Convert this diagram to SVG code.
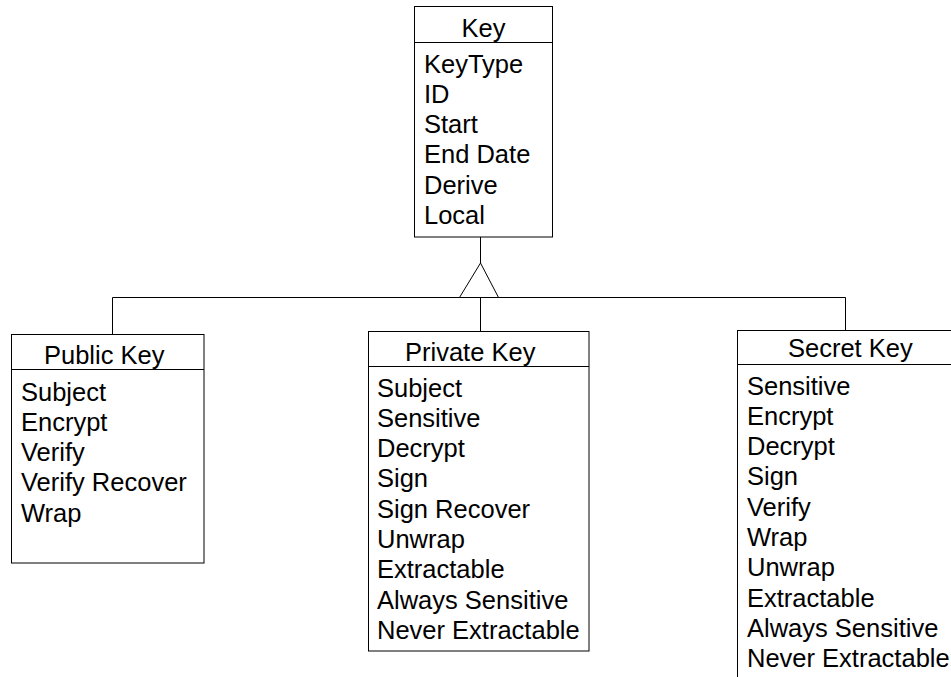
<svg xmlns="http://www.w3.org/2000/svg" width="951" height="677" viewBox="0 0 951 677">
<style>
.box{fill:#fff;stroke:#000;stroke-width:1}
.ln{fill:none;stroke:#000;stroke-width:1}
text{font-family:"Liberation Sans",Arial,sans-serif;font-size:25.5px;fill:#000}
</style>
<rect width="951" height="677" fill="#fff"/>
<g id="connectors">
<line class="ln" x1="480.5" y1="237" x2="480.5" y2="263"/>
<polygon class="ln" points="480.5,263 459.5,297.5 498.5,297.5"/>
<line class="ln" x1="112.5" y1="297.5" x2="845.5" y2="297.5"/>
<line class="ln" x1="112.5" y1="297.5" x2="112.5" y2="334"/>
<line class="ln" x1="480.5" y1="297.5" x2="480.5" y2="331"/>
<line class="ln" x1="845.5" y1="297.5" x2="845.5" y2="330"/>
</g>
<g id="key">
<rect class="box" x="414.5" y="6.5" width="138" height="230.5"/>
<line class="ln" x1="414.5" y1="42.5" x2="552.5" y2="42.5"/>
<text x="483.5" y="37" text-anchor="middle">Key</text>
<text x="424" y="72.5">KeyType</text>
<text x="424" y="102.8">ID</text>
<text x="424" y="133.1">Start</text>
<text x="424" y="163.4">End Date</text>
<text x="424" y="193.7">Derive</text>
<text x="424" y="224">Local</text>
</g>
<g id="public-key">
<rect class="box" x="11.5" y="334.5" width="192.5" height="228.5"/>
<line class="ln" x1="11.5" y1="369.5" x2="204" y2="369.5"/>
<text x="44" y="364">Public Key</text>
<text x="21" y="400.5">Subject</text>
<text x="21" y="430.8">Encrypt</text>
<text x="21" y="461.1">Verify</text>
<text x="21" y="491.4">Verify Recover</text>
<text x="21" y="521.7">Wrap</text>
</g>
<g id="private-key">
<rect class="box" x="368.5" y="331.5" width="220.5" height="319.5"/>
<line class="ln" x1="368.5" y1="366.5" x2="589" y2="366.5"/>
<text x="405" y="361">Private Key</text>
<text x="377" y="396.5">Subject</text>
<text x="377" y="426.8">Sensitive</text>
<text x="377" y="457.1">Decrypt</text>
<text x="377" y="487.4">Sign</text>
<text x="377" y="517.7">Sign Recover</text>
<text x="377" y="548">Unwrap</text>
<text x="377" y="578.3">Extractable</text>
<text x="377" y="608.6">Always Sensitive</text>
<text x="377" y="638.9">Never Extractable</text>
</g>
<g id="secret-key">
<rect class="box" x="737.5" y="330.5" width="230" height="360"/>
<line class="ln" x1="737.5" y1="364.5" x2="967.5" y2="364.5"/>
<text x="788" y="357">Secret Key</text>
<text x="747" y="394.5">Sensitive</text>
<text x="747" y="424.8">Encrypt</text>
<text x="747" y="455.1">Decrypt</text>
<text x="747" y="485.4">Sign</text>
<text x="747" y="515.7">Verify</text>
<text x="747" y="546">Wrap</text>
<text x="747" y="576.3">Unwrap</text>
<text x="747" y="606.6">Extractable</text>
<text x="747" y="636.9">Always Sensitive</text>
<text x="747" y="667.2">Never Extractable</text>
</g>
</svg>
